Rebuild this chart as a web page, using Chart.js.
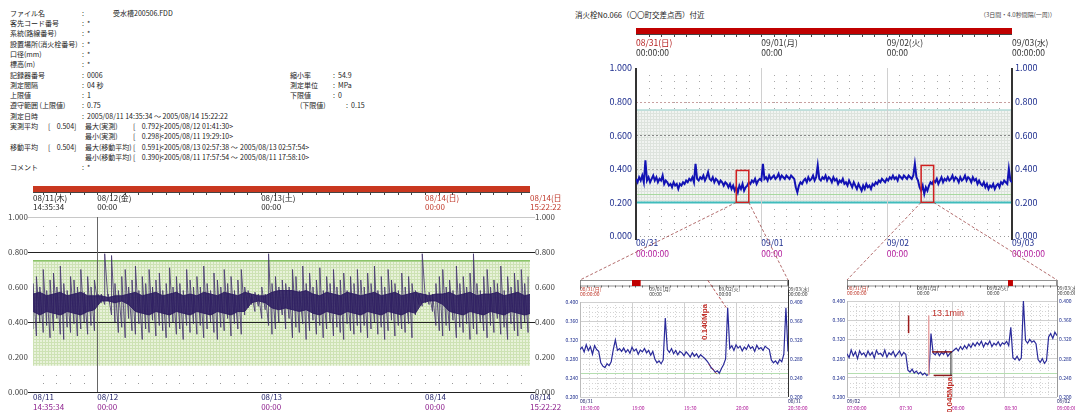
<!DOCTYPE html>
<html lang="ja">
<head>
<meta charset="utf-8">
<title>水圧記録</title>
<script src="https://cdn.jsdelivr.net/npm/chart.js@4.4.1/dist/chart.umd.min.js"></script>
<style>
  html, body { margin: 0; padding: 0; background: #fff; }
  body { position: relative; width: 1075px; height: 412px; overflow: hidden; font-family: 'Noto Sans CJK JP', sans-serif; }
  canvas { position: absolute; }
  .t { position: absolute; font-size: 7px; line-height: 10px; color: #222; white-space: pre; }
  #ttl { position: absolute; left: 575px; top: 9px; font-size: 7.5px; color: #222; white-space: nowrap; }
  #span { position: absolute; left: 980px; top: 10px; font-size: 6px; color: #444; white-space: nowrap; }
</style>
</head>
<body>
<div id="info"></div>
<div id="ttl">消火栓No.066（〇〇町交差点西）付近</div>
<div id="span">（3日間・4.0秒間隔(一周)）</div>
<canvas id="cA" width="562" height="232" style="left:0;top:180px"></canvas>
<canvas id="cB" width="515" height="240" style="left:560px;top:20px"></canvas>
<canvas id="cC" width="250" height="137" style="left:560px;top:275px"></canvas>
<canvas id="cD" width="250" height="137" style="left:826px;top:275px"></canvas>
<canvas id="ov" width="1075" height="412" style="left:0;top:0;pointer-events:none"></canvas>
<script>
// ---- 受水槽 08/11 - 08/14 (hours from 08/11 00:00) ----
const leftStartH = 14.593;
const leftEndH = 87.373;
// dense part of the trace, upper / lower edge, one value per hour
const leftBandStepH = 1;
const leftBandHi = [
  0.56,0.57,0.55,0.56,0.57,0.55,0.56,0.57,0.55,0.55,
  0.55,0.54,0.55,0.55,0.56,0.57,0.55,0.56,0.57,0.55,
  0.56,0.57,0.55,0.56,0.55,0.57,0.56,0.55,0.57,0.56,
  0.55,0.57,0.56,0.55,0.55,0.57,0.58,0.58,0.58,0.57,
  0.58,0.56,0.55,0.57,0.56,0.55,0.57,0.56,0.55,0.56,
  0.57,0.55,0.56,0.57,0.55,0.56,0.57,0.56,0.55,0.56,
  0.56,0.57,0.55,0.56,0.57,0.55,0.56,0.56,0.57,0.55,
  0.56,0.57,0.55,0.56
];
const leftBandLo = [
  0.46,0.44,0.46,0.45,0.44,0.46,0.45,0.44,0.46,0.47,
  0.52,0.52,0.51,0.52,0.50,0.46,0.45,0.44,0.46,0.45,
  0.44,0.46,0.45,0.44,0.46,0.45,0.44,0.46,0.45,0.44,
  0.46,0.46,0.51,0.52,0.51,0.48,0.47,0.48,0.47,0.46,
  0.47,0.45,0.44,0.46,0.45,0.44,0.46,0.45,0.44,0.46,
  0.45,0.44,0.46,0.45,0.44,0.46,0.45,0.51,0.52,0.52,
  0.50,0.46,0.45,0.44,0.46,0.45,0.44,0.46,0.45,0.44,
  0.46,0.45,0.44,0.45
];
// spikes, highest / lowest reading in each half hour
const leftSpikeStepH = 0.5;
const leftSpikeHi = [
  0.62,0.66,0.60,0.70,0.58,0.64,0.68,0.60,0.72,0.62,0.58,0.66,0.64,0.60,0.70,0.57,0.66,0.60,0.64,0.56,0.56,0.79,0.56,0.78,
  0.62,0.58,0.66,0.70,0.60,0.64,0.72,0.58,0.66,0.62,0.70,0.60,0.64,0.68,0.58,0.62,0.71,0.60,0.66,0.62,0.58,0.70,0.64,0.60,
  0.66,0.60,0.72,0.62,0.58,0.68,0.64,0.60,0.70,0.62,0.66,0.58,0.64,0.70,0.60,0.58,0.56,0.57,0.56,0.60,0.56,0.79,0.62,0.66,
  0.60,0.64,0.62,0.60,0.70,0.66,0.58,0.72,0.62,0.68,0.60,0.64,0.71,0.58,0.66,0.62,0.70,0.60,0.64,0.68,0.58,0.66,0.62,0.70,
  0.64,0.60,0.68,0.62,0.72,0.58,0.66,0.60,0.70,0.64,0.62,0.58,0.68,0.60,0.66,0.62,0.58,0.56,0.79,0.56,0.57,0.56,0.62,0.66,
  0.70,0.60,0.64,0.58,0.72,0.62,0.66,0.60,0.68,0.79,0.62,0.58,0.66,0.70,0.60,0.64,0.62,0.72,0.58,0.66,0.60,0.68,0.64,0.70,0.62,0.66
];
const leftSpikeLo = [
  0.36,0.32,0.40,0.34,0.38,0.31,0.35,0.42,0.33,0.30,0.37,0.34,0.39,0.32,0.36,0.40,0.33,0.38,0.35,0.50,0.51,0.50,0.52,0.44,
  0.40,0.34,0.37,0.31,0.42,0.35,0.33,0.39,0.30,0.36,0.34,0.41,0.32,0.38,0.35,0.31,0.37,0.40,0.33,0.36,0.30,0.38,0.34,0.39,
  0.33,0.38,0.31,0.36,0.40,0.34,0.30,0.37,0.35,0.42,0.32,0.39,0.36,0.33,0.44,0.48,0.50,0.46,0.49,0.42,0.47,0.38,0.33,0.36,
  0.40,0.44,0.36,0.42,0.31,0.37,0.34,0.39,0.30,0.35,0.41,0.33,0.38,0.31,0.36,0.40,0.32,0.37,0.34,0.30,0.39,0.35,0.33,0.38,
  0.34,0.38,0.31,0.36,0.40,0.33,0.37,0.30,0.35,0.41,0.32,0.38,0.36,0.34,0.39,0.31,0.44,0.50,0.49,0.51,0.50,0.46,0.38,0.35,
  0.32,0.38,0.35,0.41,0.31,0.37,0.34,0.39,0.30,0.36,0.33,0.40,0.35,0.31,0.38,0.34,0.42,0.33,0.37,0.30,0.39,0.35,0.32,0.36,0.40,0.34
];
const leftTicks = [14.593, 24, 48, 72, 87.373];
const leftTopDates = ['08/11(木)', '08/12(金)', '08/13(土)', '08/14(日)', '08/14(日)'];
const leftTopTimes = ['14:35:34', '00:00', '00:00', '00:00', '15:22:22'];
const leftTopColors = ['#222', '#222', '#222', '#c0392b', '#c0392b'];
const leftBottomDates = ['08/11', '08/12', '08/13', '08/14', '08/14'];
const leftBottomTimes = ['14:35:34', '00:00', '00:00', '00:00', '15:22:22'];
const leftLimitHigh = 0.75;
const leftLimitLow = 0.15;

// ---- 消火栓 08/31 - 09/03 (hours from 08/31 00:00) ----
const hydStepH = 0.3;
const hydPressure = [
  0.34,0.32,0.35,0.33,0.36,0.32,0.45,0.33,0.35,0.32,0.34,0.36,0.33,0.35,0.32,0.34,0.33,0.36,0.31,0.33,
  0.32,0.30,0.31,0.29,0.32,0.30,0.31,0.28,0.31,0.30,0.32,0.31,0.33,0.32,0.34,0.33,0.35,0.32,0.43,0.34,
  0.33,0.35,0.34,0.36,0.33,0.35,0.38,0.34,0.33,0.35,0.32,0.34,0.33,0.31,0.33,0.32,0.30,0.32,0.31,0.29,
  0.31,0.28,0.30,0.27,0.29,0.26,0.30,0.28,0.31,0.27,0.29,0.30,0.32,0.31,0.33,0.32,0.34,0.31,0.33,0.34,
  0.33,0.43,0.34,0.35,0.33,0.36,0.34,0.35,0.36,0.34,0.35,0.37,0.34,0.36,0.35,0.34,0.36,0.35,0.34,0.36,
  0.35,0.34,0.29,0.26,0.30,0.32,0.31,0.33,0.34,0.32,0.35,0.33,0.34,0.36,0.33,0.35,0.42,0.34,0.33,0.35,
  0.34,0.36,0.33,0.35,0.34,0.32,0.35,0.33,0.34,0.31,0.33,0.32,0.34,0.31,0.32,0.30,0.33,0.31,0.29,0.32,
  0.30,0.28,0.31,0.29,0.27,0.30,0.28,0.31,0.29,0.30,0.28,0.31,0.30,0.32,0.31,0.33,0.32,0.34,0.33,0.32,
  0.34,0.33,0.35,0.34,0.36,0.34,0.35,0.33,0.36,0.35,0.34,0.36,0.35,0.34,0.36,0.35,0.34,0.36,0.43,0.35,
  0.33,0.29,0.27,0.30,0.25,0.29,0.27,0.30,0.32,0.31,0.33,0.32,0.34,0.31,0.33,0.35,0.32,0.34,0.33,0.35,
  0.33,0.34,0.36,0.33,0.35,0.34,0.32,0.35,0.33,0.34,0.36,0.33,0.35,0.34,0.32,0.35,0.33,0.34,0.31,0.33,
  0.31,0.30,0.32,0.29,0.31,0.28,0.30,0.29,0.31,0.28,0.30,0.31,0.29,0.32,0.31,0.33,0.32,0.31,0.40,0.33,
  0.32
];
const hydTicks = [0, 24, 48, 72];
const hydTopDates = ['08/31(日)', '09/01(月)', '09/02(火)', '09/03(水)'];
const hydTimes = ['00:00:00', '00:00', '00:00', '00:00:00'];
const hydBottomDates = ['08/31', '09/01', '09/02', '09/03'];
const hydLimitHigh = 0.75;
const hydLimitLow = 0.2;
const hydWarn = 0.25;
const zoomBoxes = [
  { from: 19.2, to: 21.6, low: 0.2, high: 0.39 },
  { from: 54.6, to: 57.0, low: 0.2, high: 0.42 }
];

// ---- 拡大 (minutes inside each 2 h window) ----
const zoomStepMin = 1.2;
const zoom1Pressure = [
  0.300,0.305,0.295,0.310,0.298,0.306,0.290,0.308,0.300,0.296,
  0.272,0.265,0.262,0.270,0.266,0.274,0.300,0.320,0.298,0.302,
  0.296,0.303,0.294,0.300,0.292,0.305,0.297,0.301,0.290,0.299,
  0.295,0.302,0.293,0.298,0.288,0.296,0.280,0.272,0.276,0.270,
  0.278,0.366,0.300,0.294,0.302,0.291,0.298,0.289,0.296,0.293,
  0.287,0.295,0.290,0.284,0.293,0.286,0.291,0.283,0.289,0.285,
  0.281,0.276,0.270,0.262,0.258,0.252,0.255,0.250,0.260,0.268,
  0.280,0.388,0.302,0.308,0.298,0.310,0.303,0.307,0.297,0.305,
  0.300,0.310,0.302,0.306,0.296,0.309,0.301,0.304,0.298,0.307,
  0.303,0.300,0.278,0.272,0.276,0.270,0.279,0.274,0.290,0.388,
  0.296
];
const zoom2Pressure = [
  0.290,0.282,0.298,0.286,0.294,0.280,0.296,0.288,0.292,0.284,
  0.296,0.287,0.293,0.281,0.297,0.289,0.291,0.285,0.298,0.283,
  0.292,0.288,0.295,0.284,0.290,0.296,0.286,0.293,0.289,0.256,
  0.252,0.258,0.250,0.254,0.248,0.252,0.246,0.250,0.245,0.248,
  0.332,0.292,0.288,0.295,0.286,0.293,0.289,0.296,0.285,0.291,
  0.294,0.298,0.302,0.296,0.305,0.299,0.307,0.301,0.310,0.303,
  0.312,0.306,0.314,0.308,0.316,0.304,0.313,0.309,0.317,0.305,
  0.312,0.308,0.315,0.306,0.313,0.310,0.316,0.307,0.345,0.282,
  0.278,0.285,0.276,0.281,0.400,0.318,0.312,0.320,0.314,0.317,
  0.311,0.278,0.272,0.280,0.270,0.276,0.325,0.332,0.322,0.335,
  0.328
];
const zoomTicks = [0, 30, 60, 90, 120];
const zoomEnds = [0, 120];
const zoom1Dates = ['08/31', '08/31'];
const zoom1Times = ['18:30:00', '19:00', '19:30', '20:00', '20:30:00'];
const zoom2Dates = ['09/02', '09/02'];
const zoom2Times = ['07:00:00', '07:30', '08:00', '08:30', '09:00:00'];
const overviewMarks = [[18.0, 21.0], [55.2, 56.9]];

// ---- header text ----
const infoRows = [
  [13, [[10, 'ファイル名'], [82, ':'], [113, '受水槽200506.FDD']]],
  [23, [[10, '客先コード番号'], [82, ':  *']]],
  [33, [[10, '系統(路線番号)'], [82, ':  *']]],
  [43.5, [[10, '設置場所(消火栓番号)'], [82, ':  *']]],
  [54, [[10, '口径(mm)'], [82, ':  *']]],
  [64, [[10, '標高(m)'], [82, ':  *']]],
  [74.5, [[10, '記録器番号'], [82, ':  0006'], [290, '縮小率'], [333, ':  54.9']]],
  [85, [[10, '測定間隔'], [82, ':  04 秒'], [290, '測定単位'], [333, ':  MPa']]],
  [95, [[10, '上限値'], [82, ':  1'], [290, '下限値'], [333, ':  0']]],
  [105, [[10, '遵守範囲 (上限値)'], [82, ':  0.75'], [300, '(下限値)'], [346, ':  0.15']]],
  [115.5, [[10, '測定日時'], [82, ':  2005/08/11 14:35:34 ～ 2005/08/14 15:22:22']]],
  [126, [[10, '実測平均'], [48, '[    0.504]'], [85, '最大(実測)'], [133, '[    0.792]'], [160, '<2005/08/12 01:41:30>']]],
  [136, [[85, '最小(実測)'], [133, '[    0.298]'], [160, '<2005/08/11 19:29:10>']]],
  [146.5, [[10, '移動平均'], [48, '[    0.504]'], [85, '最大(移動平均)'], [133, '[    0.591]'], [160, '<2005/08/13 02:57:38 ～'], [240, '2005/08/13 02:57:54>']]],
  [156.5, [[85, '最小(移動平均)'], [133, '[    0.390]'], [160, '<2005/08/11 17:57:54 ～'], [240, '2005/08/11 17:58:10>']]],
  [167, [[10, 'コメント'], [82, ':  *']]]
];
const info = document.getElementById('info');
infoRows.forEach(([y, cells]) => cells.forEach(([x, text]) => {
  const d = document.createElement('div');
  d.className = 't';
  d.style.left = x + 'px';
  d.style.top = (y - 5) + 'px';
  d.textContent = text;
  info.appendChild(d);
}));

// ---- helpers ----
Chart.defaults.font.family = "'Noto Sans CJK JP', 'DejaVu Sans', sans-serif";

const posA = [0, 180], posB = [560, 20], posC = [560, 275], posD = [826, 275];

function series(start, step, vals) {
  return vals.map((v, i) => ({ x: start + i * step, y: v }));
}
// low/high pair at the same instant, so the trace draws a vertical stroke
function spikes(start, step, hi, lo) {
  return hi.flatMap((h, i) => [{ x: start + i * step, y: lo[i] }, { x: start + i * step, y: h }]);
}
function steps(from, to, step) {
  const out = [];
  for (let v = from; v <= to + 1e-9; v += step) out.push(+v.toFixed(4));
  return out;
}
function fixTicks(values) {
  return s => { s.ticks = values.map(v => ({ value: v })); };
}
function fitX(h) {
  return s => { s.height = h; s.paddingLeft = 0; s.paddingRight = 0; };
}
function fitY(w) {
  return s => { s.width = w; s.paddingTop = 0; s.paddingBottom = 0; };
}
const fmt3 = v => Number(v).toFixed(3);
const near = (a, b) => Math.abs(a - b) < 1e-6;

function meshPattern(ctx, bg, line, size) {
  const c = document.createElement('canvas');
  c.width = c.height = size;
  const g = c.getContext('2d');
  g.fillStyle = bg;
  g.fillRect(0, 0, size, size);
  g.fillStyle = line;
  g.fillRect(0, 0, size, 1);
  g.fillRect(0, 0, 1, size);
  return ctx.createPattern(c, 'repeat');
}

function vText(ctx, text, px, py, font, color) {
  ctx.save();
  ctx.translate(px, py);
  ctx.rotate(-Math.PI / 2);
  ctx.font = font;
  ctx.fillStyle = color;
  ctx.textAlign = 'center';
  ctx.textBaseline = 'middle';
  ctx.fillText(text, 0, 0);
  ctx.restore();
}

function seg(ctx, x0, y0, x1, y1) {
  ctx.beginPath();
  ctx.moveTo(x0, y0);
  ctx.lineTo(x1, y1);
  ctx.stroke();
}

// band, dotted grids, limit lines, top bars, boxes and notes
function deco(cfg) {
  return {
    id: 'deco',
    beforeDraw(chart) {
      const { ctx, chartArea: a, scales: { x, y } } = chart;
      ctx.save();
      if (cfg.dots) {
        ctx.fillStyle = cfg.dots.color;
        cfg.dots.xs.forEach(xv => cfg.dots.ys.forEach(yv => {
          ctx.fillRect(Math.round(x.getPixelForValue(xv)), Math.round(y.getPixelForValue(yv)), 1, 1);
        }));
      }
      if (cfg.band) {
        const b = cfg.band;
        const top = y.getPixelForValue(b.to), bot = y.getPixelForValue(b.from);
        ctx.fillStyle = meshPattern(ctx, b.bg, b.line, b.size);
        ctx.fillRect(a.left, top, a.right - a.left, bot - top);
      }
      (cfg.minor || []).forEach(m => {
        ctx.strokeStyle = m.color;
        ctx.lineWidth = 1;
        ctx.setLineDash(m.dash);
        ctx.beginPath();
        m.xs.forEach(xv => {
          const px = Math.round(x.getPixelForValue(xv)) + 0.5;
          ctx.moveTo(px, a.top); ctx.lineTo(px, a.bottom);
        });
        m.ys.forEach(yv => {
          const py = Math.round(y.getPixelForValue(yv)) + 0.5;
          ctx.moveTo(a.left, py); ctx.lineTo(a.right, py);
        });
        ctx.stroke();
      });
      ctx.restore();
    },
    beforeDatasetsDraw(chart) {
      const { ctx, chartArea: a, scales: { x, y } } = chart;
      ctx.save();
      (cfg.hlines || []).forEach(l => {
        const w = l.w || 1;
        let py = y.getPixelForValue(l.v);
        if (w === 1) py = Math.round(py) + 0.5;
        ctx.strokeStyle = l.color;
        ctx.lineWidth = w;
        ctx.setLineDash(l.dash || []);
        seg(ctx, a.left, py, a.right, py);
      });
      (cfg.vlines || []).forEach(l => {
        const w = l.w || 1;
        let px = x.getPixelForValue(l.v);
        if (w === 1) px = Math.round(px) + 0.5;
        ctx.strokeStyle = l.color;
        ctx.lineWidth = w;
        ctx.setLineDash([]);
        seg(ctx, px, a.top - (l.up || 0), px, a.bottom + (l.down || 0));
      });
      ctx.restore();
    },
    afterDatasetsDraw(chart) {
      const { ctx, chartArea: a, scales } = chart;
      ctx.save();
      if (cfg.bar) {
        const b = cfg.bar;
        ctx.fillStyle = b.color;
        ctx.fillRect(a.left, b.y, a.right - a.left, b.h);
        ctx.fillStyle = '#444';
        ctx.fillRect(a.left, b.y + b.h, a.right - a.left, 1);
        b.ticks.forEach(v => ctx.fillRect(Math.round(scales.x.getPixelForValue(v)), b.y + b.h, 1, 3));
      }
      if (cfg.overview) {
        const o = cfg.overview, s = scales.xOv;
        ctx.fillStyle = '#fff';
        ctx.fillRect(a.left, o.y, a.right - a.left, o.h);
        ctx.strokeStyle = '#777';
        ctx.lineWidth = 0.8;
        ctx.strokeRect(a.left + 0.5, o.y + 0.5, a.right - a.left - 1, o.h);
        ctx.fillStyle = '#666';
        o.ticks.forEach(v => ctx.fillRect(Math.round(s.getPixelForValue(v)), o.y + o.h, 1, 2));
        o.dayTicks.forEach(v => ctx.fillRect(Math.round(s.getPixelForValue(v)), o.y + o.h, 1, 4));
        const m0 = s.getPixelForValue(o.mark[0]), m1 = s.getPixelForValue(o.mark[1]);
        ctx.fillStyle = '#c00000';
        ctx.fillRect(m0, o.y, m1 - m0, o.h + 0.5);
      }
      (cfg.boxes || []).forEach(b => {
        const x0 = scales.x.getPixelForValue(b.from), x1 = scales.x.getPixelForValue(b.to);
        const y0 = scales.y.getPixelForValue(b.high), y1 = scales.y.getPixelForValue(b.low);
        ctx.strokeStyle = '#d02020';
        ctx.lineWidth = 1.5;
        ctx.setLineDash([]);
        ctx.strokeRect(x0, y0, x1 - x0, y1 - y0);
      });
      if (cfg.notes) cfg.notes(ctx, v => scales.x.getPixelForValue(v), v => scales.y.getPixelForValue(v));
      ctx.restore();
    }
  };
}

const baseOptions = {
  responsive: false,
  animation: false,
  events: [],
  layout: { padding: 0 },
  plugins: { legend: { display: false }, tooltip: { enabled: false } }
};

function xAxis(position, weight, min, max, ticks, labels, height, padding, size, color) {
  return {
    type: 'linear', position, weight, min, max,
    afterBuildTicks: fixTicks(ticks),
    afterFit: fitX(height),
    grid: { display: false, drawTicks: false },
    border: { display: false },
    ticks: {
      align: 'start', padding, autoSkip: false, maxRotation: 0, minRotation: 0,
      font: { size, lineHeight: 1.1 }, color,
      callback: (v, i) => labels[i]
    }
  };
}

// ---- chart A: 受水槽 ----
const strongA = [0, 0.4, 0.8];
function gridA(c) {
  const v = c.tick ? c.tick.value : -1;
  if (strongA.some(s => near(s, v))) return '#222';
  if (near(v, 1)) return '#c8c8c8';
  return 'rgba(0,0,0,0)';
}
const yA = (pos, w) => ({
  position: pos, min: 0, max: 1,
  afterFit: fitY(w),
  ticks: { stepSize: 0.2, callback: fmt3, padding: 0, font: { size: 8 }, color: '#444' },
  grid: pos === 'left'
    ? { color: gridA, tickColor: gridA, tickLength: 5, drawTicks: true }
    : { drawOnChartArea: false, tickColor: gridA, tickLength: 5, drawTicks: true },
  border: { display: false }
});

const bandColor = 'rgba(43,27,96,0.88)';
const chartA = new Chart(document.getElementById('cA'), {
  type: 'line',
  data: {
    datasets: [
      {
        data: series(leftStartH, leftBandStepH, leftBandHi),
        borderColor: bandColor, backgroundColor: bandColor, fill: '+1',
        borderWidth: 1, pointRadius: 0, tension: 0, xAxisID: 'x', yAxisID: 'y'
      },
      {
        data: series(leftStartH, leftBandStepH, leftBandLo),
        borderColor: bandColor, fill: false,
        borderWidth: 1, pointRadius: 0, tension: 0, xAxisID: 'x', yAxisID: 'y'
      },
      {
        data: spikes(leftStartH, leftSpikeStepH, leftSpikeHi, leftSpikeLo),
        borderColor: 'rgba(72,58,112,0.85)', fill: false,
        borderWidth: 1, pointRadius: 0, tension: 0, xAxisID: 'x', yAxisID: 'y'
      }
    ]
  },
  options: {
    ...baseOptions,
    scales: {
      xTop: xAxis('top', 0, leftStartH, leftEndH, leftTicks,
        leftTicks.map((t, i) => [leftTopDates[i], leftTopTimes[i]]), 37, 6, 8, c => leftTopColors[c.index]),
      x: xAxis('bottom', 0, leftStartH, leftEndH, leftTicks, leftBottomDates, 10, 1, 8, '#23236b'),
      xTime: xAxis('bottom', 1, leftStartH, leftEndH, leftTicks, leftBottomTimes, 10, 1, 8, '#8b1c8b'),
      y: yA('left', 33),
      yR: yA('right', 32)
    }
  },
  plugins: [deco({
    dots: { xs: steps(16, 86, 2), ys: [0.05, 0.1, 0.85, 0.9, 0.95], color: '#9a9a9a' },
    band: { from: leftLimitLow, to: leftLimitHigh, bg: '#e8f2da', line: '#cde2b4', size: 3 },
    hlines: [
      { v: leftLimitHigh, color: '#8cc46a', w: 1.5 },
      { v: 0.4, color: '#222' },
      { v: 0.8, color: '#222' }
    ],
    vlines: [{ v: 24, color: '#666' }],
    bar: { y: 6, h: 6, color: '#c9371f', ticks: steps(16, 86, 2) }
  })]
});

// ---- chart B: 消火栓 3日間 ----
const yB = (pos, w, pad) => ({
  position: pos, min: 0, max: 1,
  afterFit: fitY(w),
  ticks: { stepSize: 0.2, callback: fmt3, padding: pad, font: { size: 9 }, color: '#1f2f8f' },
  grid: { display: false, drawTicks: false },
  border: { display: false }
});

const chartB = new Chart(document.getElementById('cB'), {
  type: 'line',
  data: {
    datasets: [{
      data: series(0, hydStepH, hydPressure),
      borderColor: '#1212b4', borderWidth: 2, pointRadius: 0, tension: 0,
      xAxisID: 'x', yAxisID: 'y'
    }]
  },
  options: {
    ...baseOptions,
    scales: {
      xTopD: xAxis('top', 1, 0, 72, hydTicks, hydTopDates, 28, 1, 8.5, c => c.index === 0 ? '#b41e1e' : '#333'),
      xTopT: xAxis('top', 0, 0, 72, hydTicks, hydTimes, 20, 11, 8.5, '#333'),
      x: xAxis('bottom', 0, 0, 72, hydTicks, hydBottomDates, 12, 2, 8.5, '#1f2f8f'),
      xTime: xAxis('bottom', 1, 0, 72, hydTicks, hydTimes, 12, 1, 8.5, '#b0189a'),
      y: yB('left', 76, 4),
      yR: yB('right', 63, 3)
    }
  },
  plugins: [deco({
    band: { from: hydLimitLow, to: hydLimitHigh, bg: '#f1f4f1', line: '#dde3dd', size: 3 },
    dots: { xs: steps(2.4, 69.6, 2.4), ys: steps(0.04, 0.96, 0.04), color: '#a8a8a8' },
    hlines: [
      { v: 0.8, color: '#c8a0a0', dash: [2, 2] },
      { v: 0.6, color: '#888', dash: [2, 2] },
      { v: 0.4, color: '#aaa', dash: [2, 2] },
      { v: 0, color: '#999', dash: [1, 3] },
      { v: hydLimitHigh, color: '#b5dcd8', w: 1.5 },
      { v: hydWarn, color: '#a8d8a0' },
      { v: hydLimitLow, color: '#40bcbc', w: 2 }
    ],
    vlines: [
      { v: 24, color: '#d0d0d0', down: 6 },
      { v: 48, color: '#d0d0d0', down: 6 },
      { v: 0, color: '#333', w: 2, down: 4 },
      { v: 72, color: '#333', w: 2, down: 4 }
    ],
    bar: { y: 8, h: 6, color: '#c00000', ticks: steps(2.4, 69.6, 2.4) },
    boxes: zoomBoxes
  })]
});

// ---- charts C / D: 拡大 ----
const minorX = steps(5, 115, 5).filter(v => v % 30 !== 0);
const minorY = steps(0.21, 0.39, 0.01).filter(v => !near((v - 0.2) / 0.04, Math.round((v - 0.2) / 0.04)));

function zoomChart(id, vals, dates, times, topH, leftW, rightW, mark, rightColor, notes) {
  const yS = (pos, w) => ({
    position: pos, min: 0.2, max: 0.4,
    afterFit: fitY(w),
    ticks: { stepSize: 0.04, callback: fmt3, padding: 2, font: { size: 5 }, color: '#1f2f8f' },
    grid: pos === 'left' ? { color: '#d0d0d0', drawTicks: false } : { display: false, drawTicks: false },
    border: { display: false }
  });
  const xTime = xAxis('bottom', 1, 0, 120, zoomTicks, times, 8, 1, 5, '#b0189a');
  xTime.grid = { display: true, color: '#d0d0d0', drawTicks: false };
  return new Chart(document.getElementById(id), {
    type: 'line',
    data: {
      datasets: [{
        data: series(0, zoomStepMin, vals),
        borderColor: '#2a2a9a', borderWidth: 1.2, pointRadius: 0, tension: 0,
        xAxisID: 'x', yAxisID: 'y'
      }]
    },
    options: {
      ...baseOptions,
      scales: {
        xOv: xAxis('top', 0, 0, 72, hydTicks, hydTicks.map((t, i) => [hydTopDates[i], hydTimes[i]]),
          topH, 5, 5, c => c.index === 0 ? '#c0392b' : '#444'),
        x: xAxis('bottom', 0, 0, 120, zoomEnds, dates, 7, 1, 5, '#23236b'),
        xTime,
        y: yS('left', leftW),
        yR: yS('right', rightW)
      }
    },
    plugins: [deco({
      minor: [{ xs: minorX, ys: minorY, color: '#d4d4d4', dash: [1, 2] }],
      hlines: [{ v: hydWarn, color: '#b5deb0' }],
      vlines: [
        { v: 0, color: '#bbb' },
        { v: 120, color: rightColor, up: topH - 5 }
      ],
      overview: { y: 5, h: 5.5, mark, ticks: steps(2.4, 69.6, 2.4), dayTicks: hydTicks },
      notes
    })]
  });
}

const chartC = zoomChart('cC', zoom1Pressure, zoom1Dates, zoom1Times, 27, 20, 22, overviewMarks[0], '#333',
  (ctx, X, Y) => {
    ctx.strokeStyle = '#a33';
    ctx.lineWidth = 0.8;
    ctx.setLineDash([3, 2]);
    seg(ctx, X(84.4), Y(0.388), X(73.5), Y(0.447));
    seg(ctx, X(79), Y(0.248), X(73.8), Y(0.271));
    ctx.setLineDash([]);
    vText(ctx, '0.140Mpa', X(72.1), Y(0.358), "bold 8px 'Liberation Sans', sans-serif", '#c0302a');
  });

const chartD = zoomChart('cD', zoom2Pressure, zoom2Dates, zoom2Times, 26, 21, 19, overviewMarks[1], '#999',
  (ctx, X, Y) => {
    ctx.setLineDash([]);
    ctx.lineWidth = 1.5;
    ctx.strokeStyle = '#9b1b1b';
    seg(ctx, X(35.2), Y(0.333), X(35.2), Y(0.370));
    ctx.strokeStyle = '#e6a3a3';
    seg(ctx, X(46.7), Y(0.245), X(46.7), Y(0.370));
    ctx.strokeStyle = '#8b1a1a';
    seg(ctx, X(48.6), Y(0.294), X(60), Y(0.294));
    seg(ctx, X(49.5), Y(0.245), X(60), Y(0.245));
    ctx.lineWidth = 1;
    ctx.strokeStyle = '#222';
    seg(ctx, X(59.4), Y(0.245), X(59.4), Y(0.294));
    ctx.font = "9px 'Liberation Sans', sans-serif";
    ctx.fillStyle = '#c0302a';
    ctx.textAlign = 'left';
    ctx.textBaseline = 'middle';
    ctx.fillText('13.1min', X(48.5), Y(0.374));
    vText(ctx, '0.045Mpa', X(59), Y(0.204), "bold 8px 'Liberation Sans', sans-serif", '#c0302a');
  });

// ---- dashed connectors from the red boxes to the zoom charts ----
const ov = document.getElementById('ov').getContext('2d');
ov.strokeStyle = '#a04848';
ov.lineWidth = 0.8;
ov.setLineDash([3, 2]);
[[chartC, posC, 0], [chartD, posD, 1]].forEach(([ch, pos, i]) => {
  const b = zoomBoxes[i];
  const bx0 = posB[0] + chartB.scales.x.getPixelForValue(b.from);
  const bx1 = posB[0] + chartB.scales.x.getPixelForValue(b.to);
  const by = posB[1] + chartB.scales.y.getPixelForValue(b.low);
  const ty = pos[1] + 5;
  seg(ov, bx0, by, pos[0] + ch.chartArea.left, ty);
  seg(ov, bx1, by, pos[0] + ch.chartArea.right, ty);
});
</script>
</body>
</html>
